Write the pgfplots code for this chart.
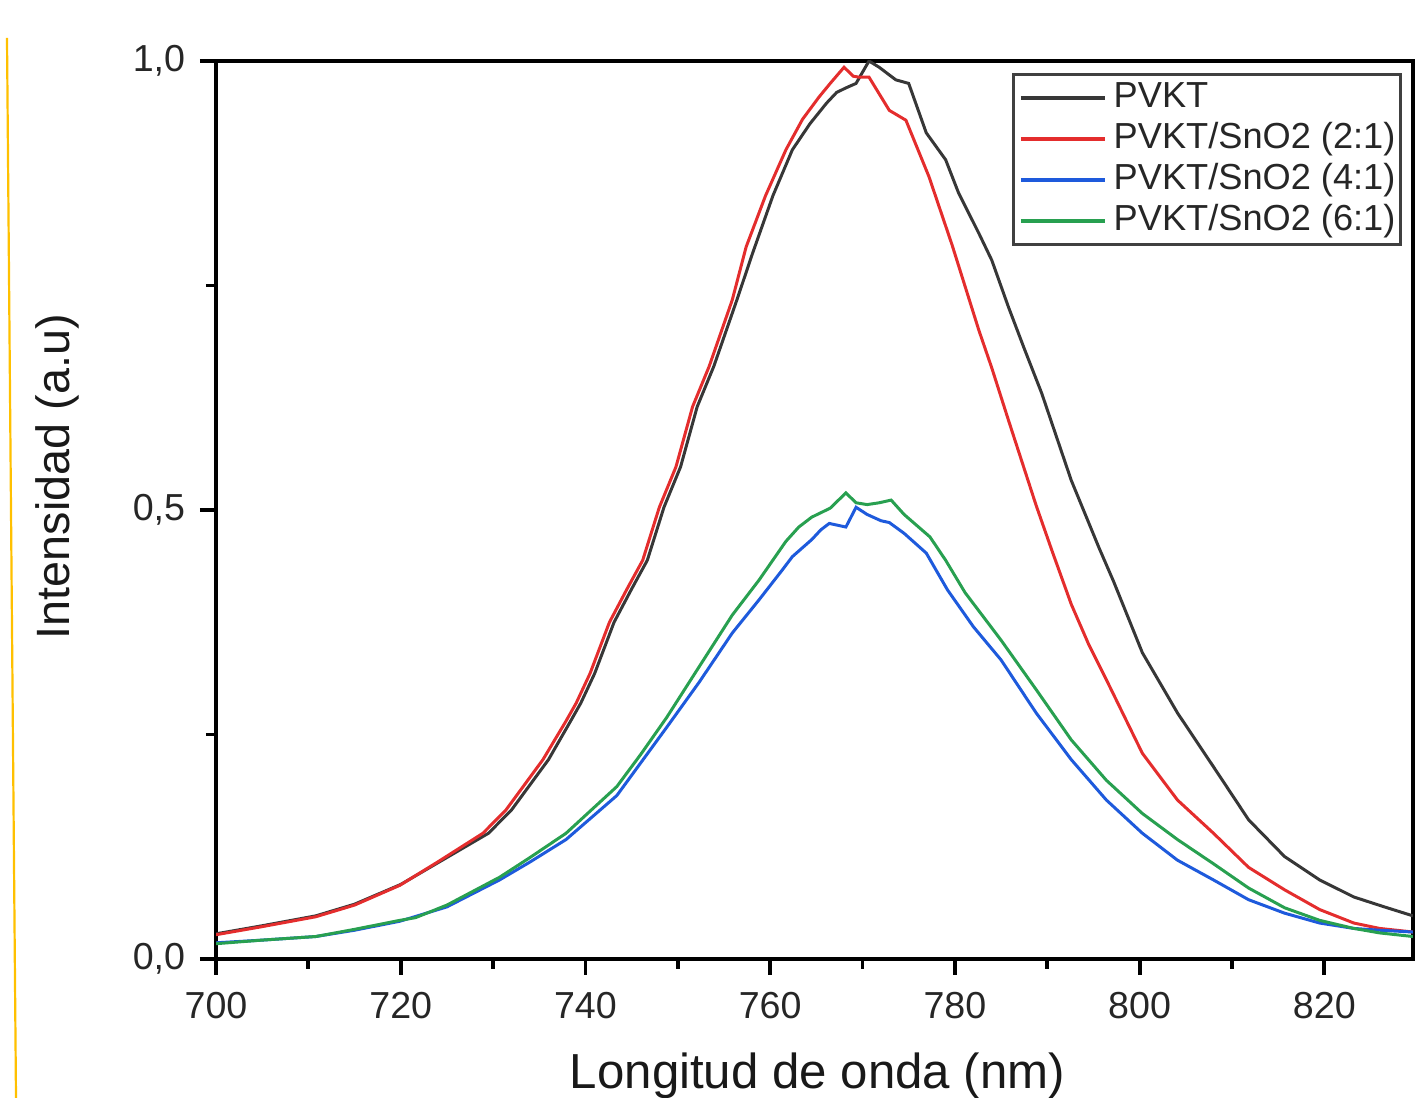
\documentclass[border=0pt]{standalone}
\usepackage{fontspec}
\setmainfont{Liberation Sans}
\usepackage{pgfplots}
\pgfplotsset{compat=1.18}
\usepackage{pgfplotstable}

\definecolor{cpvkt}{RGB}{55,55,55}
\definecolor{ctwo}{RGB}{228,45,45}
\definecolor{cfour}{RGB}{30,90,220}
\definecolor{csix}{RGB}{40,160,80}
\definecolor{cmargin}{RGB}{255,192,0}

% PL spectra (nm, normalised intensity)
\pgfplotstableread{
x y
700 0.028
705 0.037
710.8 0.048
715 0.061
720 0.083
724 0.107
729.5 0.140
732 0.166
736 0.222
738.4 0.265
739.5 0.285
741 0.318
743.1 0.375
745 0.412
746.7 0.444
748.5 0.503
750.3 0.548
752.1 0.615
753.9 0.660
756.4 0.734
758.1 0.786
760.3 0.850
762.4 0.901
764.3 0.930
766.1 0.953
767.2 0.965
768.2 0.970
769.3 0.975
770.7 1.000
771.8 0.993
773.6 0.979
775.0 0.975
776.9 0.920
779.0 0.890
780.4 0.853
782.6 0.808
784.0 0.778
785.8 0.726
787.5 0.680
789.4 0.630
792.6 0.533
795.6 0.458
797.2 0.420
800.3 0.341
804.1 0.274
808.0 0.214
811.8 0.155
815.7 0.114
819.5 0.088
823.2 0.069
826.5 0.058
829.6 0.048
}\pvkt

\pgfplotstableread{
x y
700 0.027
705 0.036
710.8 0.047
715 0.060
719.9 0.082
724 0.108
728.9 0.140
731.4 0.166
735.4 0.222
737.9 0.265
739.0 0.285
740.5 0.318
742.6 0.375
744.5 0.412
746.2 0.444
748.0 0.503
749.8 0.548
751.6 0.615
753.4 0.660
755.9 0.734
757.4 0.793
759.5 0.850
761.7 0.901
763.5 0.935
765.3 0.960
766.5 0.975
768.0 0.993
769.0 0.983
769.6 0.982
770.7 0.982
772.9 0.945
774.7 0.934
777.2 0.871
779.7 0.795
782.6 0.700
784.0 0.658
785.8 0.600
788.8 0.505
790.5 0.455
792.6 0.395
794.5 0.350
796.4 0.311
800.3 0.229
804.1 0.177
808.0 0.140
811.8 0.102
815.7 0.077
819.5 0.055
823.2 0.040
826 0.034
829.6 0.030
}\sntwo

\pgfplotstableread{
x y
700 0.018
705 0.021
710.8 0.025
715 0.032
719.9 0.042
725 0.058
730.7 0.088
734 0.108
737.9 0.133
743.4 0.182
748.8 0.258
752.3 0.308
755.9 0.363
758.8 0.400
761.3 0.433
762.4 0.448
764.5 0.467
765.5 0.478
766.4 0.485
767.3 0.483
768.2 0.481
769.3 0.503
770.5 0.495
772.0 0.488
772.9 0.486
774.5 0.474
776.9 0.452
779.2 0.411
782 0.370
785.0 0.333
788.8 0.274
792.6 0.222
796.4 0.177
800.3 0.140
804.1 0.110
808.0 0.088
811.8 0.066
815.7 0.051
819.5 0.040
823.2 0.034
826 0.032
829.6 0.030
}\snfour

\pgfplotstableread{
x y
700 0.017
705 0.021
710.8 0.025
715 0.033
719.9 0.043
721.6 0.046
725 0.060
730.7 0.091
734 0.113
737.9 0.140
743.4 0.192
746 0.228
748.8 0.269
751.6 0.314
755.9 0.383
758.8 0.422
761.7 0.465
763.1 0.481
764.5 0.492
766.5 0.502
768.2 0.519
769.3 0.508
770.5 0.506
771.8 0.508
773.1 0.511
774.5 0.495
777.3 0.470
779.0 0.444
781.1 0.408
785.0 0.355
788.8 0.300
792.6 0.244
796.4 0.199
800.3 0.162
804.1 0.133
808.0 0.106
811.8 0.079
815.7 0.057
819.5 0.043
823.2 0.034
826 0.029
829.6 0.025
}\snsix

\begin{document}
\begin{tikzpicture}
\useasboundingbox (0,0) rectangle (141.6mm,109.8mm);
\draw[cmargin, line width=0.22mm] (0.7mm,106mm) -- (1.6mm,0mm);
\begin{axis}[
  at={(21.6mm,13.9mm)}, anchor=south west,
  scale only axis, width=119.7mm, height=89.8mm,
  xmin=700, xmax=829.6, ymin=0, ymax=1,
  xtick={700,720,...,820}, minor x tick num=1,
  ytick={0,0.5,1}, minor y tick num=1,
  tick align=outside, xtick pos=left, ytick pos=left,
  major tick length=1.6mm, minor tick length=1.0mm,
  every tick/.append style={black, line width=1.1pt},
  axis line style={line width=1.15pt},
  /pgf/number format/assume math mode=true,
  tick label style={font=\fontsize{10.7}{12}\selectfont, text=black!85},
  xticklabel style={yshift=-0.5mm},
  yticklabel style={xshift=-0.25mm, /pgf/number format/.cd, fixed, fixed zerofill, precision=1, use comma},
  xlabel={Longitud de onda (nm)},
  ylabel={Intensidad (a.u)},
  every axis x label/.style={at={(axis description cs:0.5025,-0.1437)}, anchor=base, font=\fontsize{14}{16}\selectfont, text=black!90},
  every axis y label/.style={at={(axis description cs:-0.1327,0.537)}, anchor=center, rotate=90, font=\fontsize{13.3}{15}\selectfont, text=black!90},
  legend cell align=left,
  legend image code/.code={\draw[#1, line width=1.1pt] (0mm,0mm) -- (8.4mm,0mm);},
  legend style={at={(1,1)}, anchor=north east, xshift=-1.1mm, yshift=-1.2mm,
    draw=black!75, line width=0.9pt, inner xsep=0.5mm, inner ysep=0.6mm,
    font=\fontsize{10.3}{12}\selectfont, text=black!85,
    row sep=0.6mm, column sep=0.7mm,
    nodes={inner sep=0pt, text height=2.7mm, text depth=0.8mm}},
]
\addplot[cpvkt, line width=0.85pt] table[x=x, y=y] {\pvkt};
\addlegendentry{PVKT}
\addplot[ctwo, line width=0.85pt] table[x=x, y=y] {\sntwo};
\addlegendentry{PVKT/SnO2 (2:1)}
\addplot[cfour, line width=0.85pt] table[x=x, y=y] {\snfour};
\addlegendentry{PVKT/SnO2 (4:1)}
\addplot[csix, line width=0.85pt] table[x=x, y=y] {\snsix};
\addlegendentry{PVKT/SnO2 (6:1)}
\end{axis}
\end{tikzpicture}
\end{document}
